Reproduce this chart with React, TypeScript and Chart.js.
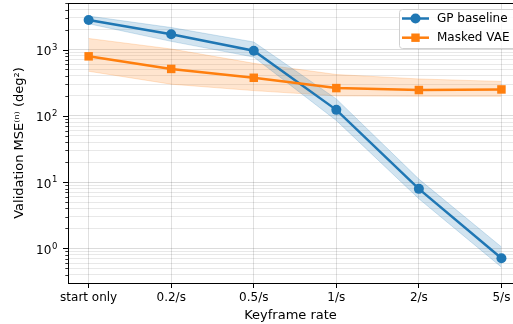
import React, { useEffect, useRef } from 'react';
import { Chart, registerables } from 'chart.js';

Chart.register(...registerables);

const categories = ['start only', '0.2/s', '0.5/s', '1/s', '2/s', '5/s'];
const gpMean = [2800, 1700, 960, 123, 7.9, 0.71];
const gpLow = [2450, 1330, 770, 85, 5.6, 0.52];
const gpHigh = [3200, 2150, 1300, 180, 11.1, 1.05];
const vaeMean = [790, 510, 375, 262, 245, 250];
const vaeLow = [470, 300, 240, 200, 197, 197];
const vaeHigh = [1470, 1020, 620, 420, 360, 330];
const yTickExponents: Record<string, string> = { '1': '0', '10': '1', '100': '2', '1000': '3' };
const seriesNames = ['GP baseline', 'Masked VAE'];

const FONT = "'DejaVu Sans', sans-serif";
const BLUE = '#1f77b4';
const ORANGE = '#ff7f0e';
const Y_MIN = 0.329;
const Y_MAX = 5040;

const pts = (arr: number[]) => arr.map((v, i) => ({ x: i, y: v }));

export default function App() {
  const ref = useRef<HTMLCanvasElement>(null);
  useEffect(() => {
    document.body.style.margin = '0';
    const extras = {
      id: 'extras',
      afterDraw(chart: any) {
        const ctx = chart.ctx;
        const area = chart.chartArea;
        const ys = chart.scales.y;
        ctx.save();
        // top spine
        ctx.strokeStyle = '#000';
        ctx.lineWidth = 1;
        ctx.beginPath();
        ctx.moveTo(area.left, area.top + 0.5);
        ctx.lineTo(area.right, area.top + 0.5);
        ctx.stroke();
        // y tick marks and labels
        ys.ticks.forEach((t: any) => {
          const yv = ys.getPixelForValue(t.value);
          const p = Math.round(yv) + 0.5;
          const exp = yTickExponents[String(t.value)];
          const major = exp !== undefined;
          const len = major ? 5 : 2.7;
          ctx.strokeStyle = '#000';
          ctx.lineWidth = major ? 1 : 0.8;
          ctx.beginPath();
          ctx.moveTo(area.left - len, p);
          ctx.lineTo(area.left, p);
          ctx.stroke();
          if (major) {
            ctx.fillStyle = '#000';
            ctx.textBaseline = 'alphabetic';
            ctx.textAlign = 'left';
            ctx.font = `8.5px ${FONT}`;
            const supW = ctx.measureText(exp).width;
            ctx.font = `12px ${FONT}`;
            const baseW = ctx.measureText('10').width;
            const right = 57.5;
            const supX = right - supW;
            const baseX = supX - 0.8 - baseW;
            ctx.fillText('10', baseX, yv + 5.5);
            ctx.font = `8.5px ${FONT}`;
            ctx.fillText(exp, supX, yv + 0.3);
          }
        });
        // legend
        const lx = 399.5, ly = 9.5, lw = 125, lh = 39;
        ctx.beginPath();
        ctx.roundRect(lx, ly, lw, lh, 3);
        ctx.fillStyle = 'rgba(255,255,255,0.8)';
        ctx.fill();
        ctx.strokeStyle = '#d0d0d0';
        ctx.lineWidth = 1;
        ctx.stroke();
        const rows = [18.5, 37.7];
        const cols = [BLUE, ORANGE];
        rows.forEach((yy, i) => {
          ctx.strokeStyle = cols[i];
          ctx.fillStyle = cols[i];
          ctx.lineWidth = 2.5;
          ctx.beginPath();
          ctx.moveTo(402, yy);
          ctx.lineTo(429, yy);
          ctx.stroke();
          if (i === 0) {
            ctx.beginPath();
            ctx.arc(415.5, yy, 5, 0, Math.PI * 2);
            ctx.fill();
          } else {
            ctx.fillRect(415.5 - 4.2, yy - 4.2, 8.4, 8.4);
          }
          ctx.fillStyle = '#000';
          ctx.font = `12px ${FONT}`;
          ctx.textBaseline = 'middle';
          ctx.textAlign = 'left';
          ctx.fillText(seriesNames[i], 437, yy + 0.5);
        });
        ctx.restore();
      },
    };

    const band = (low: boolean, color: string, fillColor: string, data: number[]) => ({
      label: '',
      data: pts(data),
      borderColor: color,
      backgroundColor: fillColor,
      borderWidth: 1,
      pointRadius: 0,
      fill: low ? false : '-1',
      order: 10,
      tension: 0,
    });

    const chart = new Chart(ref.current!, {
      type: 'line',
      data: {
        datasets: [
          band(true, 'rgba(31,119,180,0.2)', 'rgba(31,119,180,0.2)', gpLow),
          band(false, 'rgba(31,119,180,0.2)', 'rgba(31,119,180,0.2)', gpHigh),
          band(true, 'rgba(255,127,14,0.2)', 'rgba(255,127,14,0.2)', vaeLow),
          band(false, 'rgba(255,127,14,0.2)', 'rgba(255,127,14,0.2)', vaeHigh),
          {
            label: seriesNames[0],
            data: pts(gpMean),
            borderColor: BLUE,
            backgroundColor: BLUE,
            borderWidth: 2.5,
            pointRadius: 5,
            pointBorderWidth: 0,
            pointStyle: 'circle',
            fill: false,
            order: 2,
            tension: 0,
          },
          {
            label: seriesNames[1],
            data: pts(vaeMean),
            borderColor: ORANGE,
            backgroundColor: ORANGE,
            borderWidth: 2.5,
            pointRadius: 6,
            pointBorderWidth: 0,
            pointStyle: 'rect',
            fill: false,
            order: 1,
            tension: 0,
          },
        ] as any,
      },
      options: {
        animation: false,
        responsive: false,
        devicePixelRatio: 1,
        events: [],
        layout: { padding: { top: 3, left: 0, right: 0, bottom: 0 }, autoPadding: false },
        plugins: { legend: { display: false }, tooltip: { enabled: false } },
        scales: {
          x: {
            type: 'linear',
            min: -0.25,
            max: 5.14,
            afterBuildTicks: (s: any) => {
              s.ticks = categories.map((_, i) => ({ value: i }));
            },
            afterFit: (s: any) => {
              s.height = 41;
              s.paddingLeft = 0;
              s.paddingRight = 0;
            },
            ticks: {
              callback: (v: any) => categories[v] ?? '',
              autoSkip: false,
              maxRotation: 0,
              padding: 3,
              color: '#000',
              font: { family: FONT, size: 12 },
            },
            grid: { color: 'rgba(0,0,0,0.12)', tickLength: 5, tickColor: '#000', drawTicks: true },
            border: { color: '#000', width: 1 },
            title: {
              display: true,
              text: 'Keyframe rate',
              color: '#000',
              font: { family: FONT, size: 13 },
              padding: { top: 2, bottom: 1 },
            },
          },
          y: {
            type: 'logarithmic',
            min: Y_MIN,
            max: Y_MAX,
            afterBuildTicks: (s: any) => {
              const t: any[] = [];
              for (let e = -1; e <= 3; e++) {
                for (let k = 1; k <= 9; k++) {
                  const v = parseFloat((k * Math.pow(10, e)).toPrecision(6));
                  if (v >= Y_MIN && v <= Y_MAX) t.push({ value: v, major: k === 1 });
                }
              }
              s.ticks = t;
            },
            afterFit: (s: any) => {
              s.width = 68;
              s.paddingTop = 0;
              s.paddingBottom = 0;
            },
            ticks: {
              display: false,
              callback: () => '',
              autoSkip: false,
              padding: 9,
              font: { family: FONT, size: 12 },
            },
            grid: {
              drawTicks: false,
              color: (c: any) =>
                c.tick && yTickExponents[String(c.tick.value)] !== undefined
                  ? 'rgba(0,0,0,0.14)'
                  : 'rgba(0,0,0,0.09)',
            },
            border: { color: '#000', width: 1 },
            title: {
              display: true,
              text: 'Validation MSE⁽ⁿ⁾ (deg²)',
              color: '#000',
              font: { family: FONT, size: 13 },
              padding: { top: 12, bottom: 0 },
            },
          },
        },
      } as any,
      plugins: [extras],
    });
    return () => chart.destroy();
  }, []);

  return (
    <div style={{ width: 513, height: 324, overflow: 'hidden' }}>
      <canvas ref={ref} width={513} height={324} style={{ display: 'block', width: 513, height: 324 }} />
    </div>
  );
}
